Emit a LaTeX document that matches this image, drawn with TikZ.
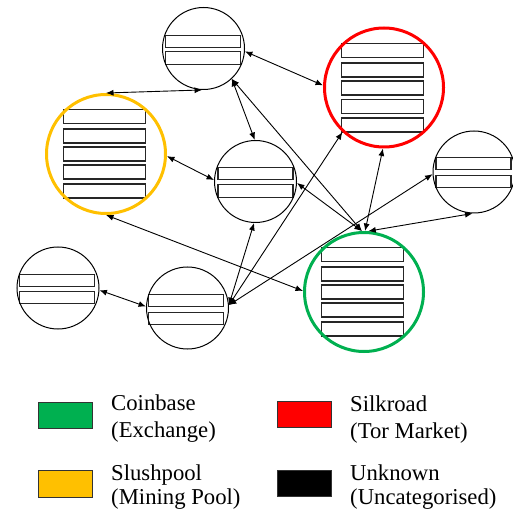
\documentclass[tikz,border=0pt]{standalone}
\usepackage{fontspec}
\setmainfont{Liberation Serif}
\usetikzlibrary{arrows.meta}
\definecolor{cbgreen}{HTML}{00B050}
\definecolor{spyellow}{HTML}{FFC000}
\definecolor{srred}{HTML}{FF0000}
\tikzset{
  acct/.style={circle, draw=black, line width=1pt, inner sep=0pt},
  smallacct/.style={acct, minimum size=82pt},
  bigacct/.style={acct, minimum size=119pt, line width=3pt},
  sbox/.style={draw=black!85, line width=1.1pt, minimum width=75pt, minimum height=12.5pt, inner sep=0pt},
  bbox/.style={draw=black!85, line width=1.1pt, minimum width=82pt, minimum height=14pt, inner sep=0pt},
  link/.style={line width=0.9pt, {Latex[length=7.5pt,width=6pt]}-{Latex[length=7.5pt,width=6pt]}},
  legbox/.style={draw=black!80, line width=0.8pt, minimum width=54pt, minimum height=26.5pt, inner sep=0pt},
  legtxt/.style={anchor=base west, inner sep=0pt, font=\fontsize{22.7pt}{26pt}\selectfont}
}
\begin{document}
\begin{tikzpicture}[x=1pt,y=-1pt]
\useasboundingbox (0,0) rectangle (513,510);
% account boxes
\node[sbox] (b1a) at (203,41.5) {};
\node[sbox] (b1b) at (203,58) {};
\node[bbox] (b2a) at (382.5,50.5) {};
\node[bbox] (b2b) at (382.5,70) {};
\node[bbox] (b2c) at (382.5,88) {};
\node[bbox] (b2d) at (382.5,106.5) {};
\node[bbox] (b2e) at (382.5,125) {};
\node[sbox] (b3a) at (473.5,163.5) {};
\node[sbox] (b3b) at (473.5,181.5) {};
\node[bbox] (b4a) at (104.5,116.5) {};
\node[bbox] (b4b) at (104.5,136) {};
\node[bbox] (b4c) at (104.5,154) {};
\node[bbox] (b4d) at (104.5,172) {};
\node[bbox] (b4e) at (104.5,191) {};
\node[sbox] (b5a) at (255.5,173.5) {};
\node[sbox] (b5b) at (255.5,191) {};
\node[sbox] (b6a) at (57,280.5) {};
\node[sbox] (b6b) at (57,297.5) {};
\node[sbox] (b7a) at (186,300.5) {};
\node[sbox] (b7b) at (186,318.5) {};
\node[bbox] (b8a) at (362.5,254.5) {};
\node[bbox] (b8b) at (362.5,274) {};
\node[bbox] (b8c) at (362.5,292) {};
\node[bbox] (b8d) at (362.5,310) {};
\node[bbox] (b8e) at (362.5,329) {};
% circles
\node[smallacct] (c1) at (203.5,48.5) {};
\node[bigacct, draw=srred] (c2) at (384,87.5) {};
\node[smallacct] (c3) at (474,172) {};
\node[bigacct, draw=spyellow] (c4) at (106,154) {};
\node[smallacct] (c5) at (255.5,181.5) {};
\node[smallacct] (c6) at (58,288) {};
\node[smallacct] (c7) at (187.5,308) {};
\node[bigacct, draw=cbgreen] (c8) at (364,292) {};
% links
\draw[link] (c1.-4) -- (c2.178);
\draw[link] (c4.north) -- (c1.-92);
\draw[link] (c4.-2) -- (c5.178);
\draw[link] (c1.-47) -- (c5.91);
\draw[link] (c1.-47) -- (c8.92);
\draw[link] (c5.-2) -- (c8.92);
\draw[link] (c2.-91) -- (c8.89);
\draw[link] (c3.-92) -- (c8.86);
\draw[link] (c4.south) -- (c8.179);
\draw[link] (c6.-3) -- (c7.178);
\draw[link] (c7.4) -- (c5.-92);
\draw[link] (c7.4) -- (c2.227);
\draw[link] (c7.4) -- (c3.183);
% legend
\node[legbox, fill=cbgreen] (lg1) at (65,415.5) {};
\node[legbox, fill=spyellow] (lg2) at (65,484) {};
\node[legbox, fill=srred] (lg3) at (304.5,414.5) {};
\node[legbox, fill=black] (lg4) at (304.5,483.5) {};
\node[legtxt] (t1a) at (111,410) {Coinbase};
\node[legtxt] (t1b) at (111,437) {(Exchange)};
\node[legtxt] (t2a) at (111,480) {Slushpool};
\node[legtxt] (t2b) at (111,504) {(Mining Pool)};
\node[legtxt] (t3a) at (350,411) {Silkroad};
\node[legtxt] (t3b) at (350,438) {(Tor Market)};
\node[legtxt] (t4a) at (350,480) {Unknown};
\node[legtxt] (t4b) at (350,504) {(Uncategorised)};
\end{tikzpicture}
\end{document}
